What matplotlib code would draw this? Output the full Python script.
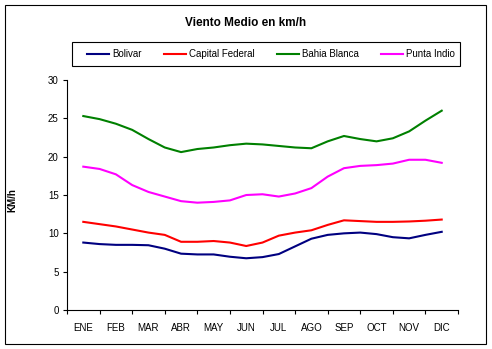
import numpy as np
import matplotlib.pyplot as plt
from matplotlib.patches import Rectangle

plt.rcParams['font.family'] = ['Liberation Sans', 'DejaVu Sans']

months = ['ENE', 'FEB', 'MAR', 'ABR', 'MAY', 'JUN', 'JUL', 'AGO', 'SEP', 'OCT', 'NOV', 'DIC']

# values read every half month (ENE, mid ENE-FEB, FEB, ...)
bolivar = [8.8, 8.6, 8.5, 8.5, 8.45, 8.0, 7.35, 7.25, 7.25, 6.95, 6.75, 6.9,
           7.3, 8.3, 9.3, 9.8, 10.0, 10.1, 9.9, 9.5, 9.35, 9.8, 10.2]
capital = [11.5, 11.2, 10.9, 10.5, 10.1, 9.8, 8.9, 8.9, 9.0, 8.8, 8.35, 8.8,
           9.7, 10.1, 10.4, 11.1, 11.7, 11.6, 11.5, 11.5, 11.55, 11.65, 11.8]
bahia = [25.3, 24.9, 24.3, 23.5, 22.3, 21.2, 20.6, 21.0, 21.2, 21.5, 21.7, 21.6,
         21.4, 21.2, 21.1, 22.0, 22.7, 22.3, 22.0, 22.4, 23.3, 24.7, 26.0]
punta = [18.7, 18.4, 17.7, 16.3, 15.4, 14.8, 14.2, 14.0, 14.1, 14.3, 15.0, 15.1,
         14.8, 15.2, 15.9, 17.4, 18.5, 18.8, 18.9, 19.1, 19.6, 19.6, 19.2]

series = [('Bolivar', bolivar, '#000080'),
          ('Capital Federal', capital, '#ff0000'),
          ('Bahia Blanca', bahia, '#008000'),
          ('Punta Indio', punta, '#ff00ff')]

fig = plt.figure(figsize=(4.92, 3.49), dpi=100)
ax = fig.add_axes([0.1362, 0.1117, 0.7947, 0.659])

xs = np.arange(len(bolivar)) / 2.0
for name, vals, col in series:
    ax.plot(xs, vals, color=col, lw=1.5, label=name)

ax.set_xlim(-0.5, 11.5)
ax.set_ylim(0, 30)
ax.set_yticks(range(0, 31, 5))
ax.set_xticks(np.arange(-0.5, 12, 1))
ax.set_xticklabels([])
ax.set_xticks(np.arange(12), minor=True)
ax.set_xticklabels(months, minor=True)
ax.tick_params(axis='x', which='minor', length=0, pad=9, labelsize=7)
ax.tick_params(axis='x', which='major', length=3, width=0.8)
ax.tick_params(axis='y', length=3, width=0.8, labelsize=7, pad=3)
for s in ['top', 'right']:
    ax.spines[s].set_visible(False)
for s in ['left', 'bottom']:
    ax.spines[s].set_linewidth(0.8)

fig.text(0.5, 1 - 23 / 349, 'Viento Medio en km/h', ha='center', va='center',
         fontsize=8.5, fontweight='bold')
fig.text(12 / 492, 1 - 200 / 349, 'KM/h', rotation=90, ha='center', va='center',
         fontsize=7, fontweight='bold')

# legend frame drawn separately so the entries can sit further right
fig.patches.append(Rectangle((72 / 492, 1 - 66 / 349), 388 / 492, 24 / 349,
                             transform=fig.transFigure, fill=False,
                             edgecolor='black', lw=0.8))
fig.legend(loc='center', bbox_to_anchor=(83 / 492, 0.8109, 376 / 492, 0.0688),
           mode='expand', ncol=4, frameon=False,
           handlelength=2.3, handletextpad=0.3, fontsize=7, borderaxespad=0)

fig.patches.append(Rectangle((5 / 492, 5 / 349), 481 / 492, 339 / 349,
                             transform=fig.transFigure, fill=False,
                             edgecolor='black', lw=0.8))

fig.savefig('out.png', dpi=100)
